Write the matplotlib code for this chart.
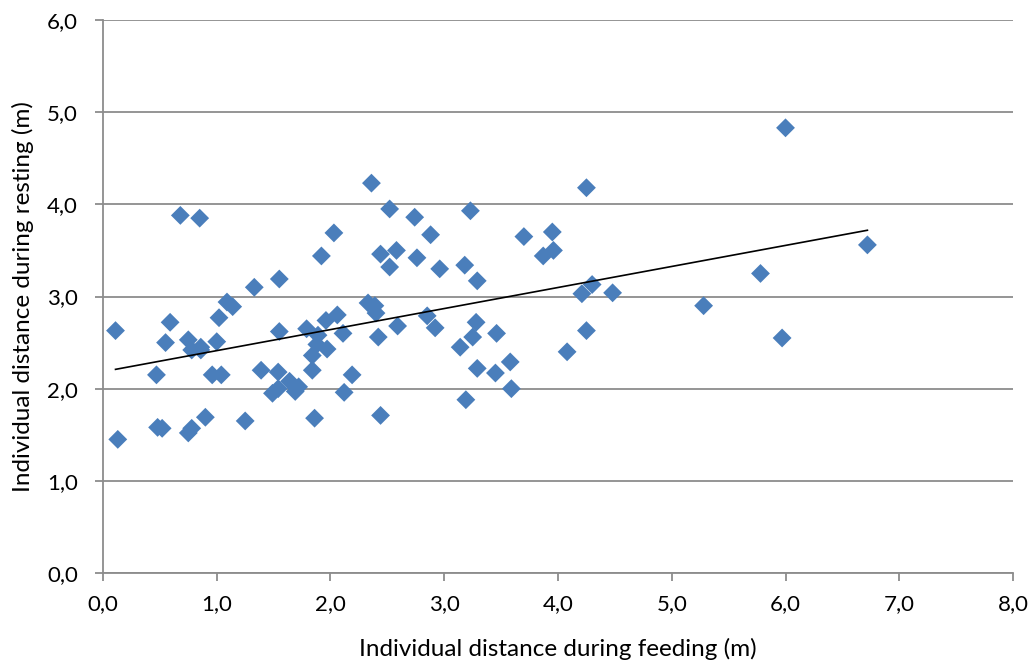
import numpy as np
import matplotlib.pyplot as plt

# individual distances (m)
feeding = [0.11, 0.13, 0.47, 0.48, 0.52, 0.55, 0.59, 0.68, 0.85, 0.75,
           0.78, 0.75, 0.78, 0.86, 0.86, 0.90, 0.96, 1.04, 1.00, 1.02,
           1.09, 1.14, 1.25, 1.33, 1.39, 1.55, 1.49, 1.54, 1.54, 1.55,
           1.64, 1.69, 1.72, 1.79, 1.84, 1.84, 1.86, 1.88, 1.89, 1.92,
           1.96, 1.97, 2.03, 2.06, 2.11, 2.12, 2.19, 2.36, 2.33, 2.39,
           2.40, 2.42, 2.44, 2.44, 2.52, 2.52, 2.58, 2.59, 2.74, 2.76,
           2.85, 2.88, 2.92, 2.96, 3.14, 3.19, 3.18, 3.23, 3.25, 3.28,
           3.29, 3.29, 3.45, 3.46, 3.58, 3.59, 3.70, 3.87, 3.95, 3.96,
           4.08, 4.21, 4.25, 4.25, 4.30, 4.48, 5.28, 5.78, 5.97, 6.00,
           6.72]
resting = [2.63, 1.45, 2.15, 1.58, 1.57, 2.50, 2.72, 3.88, 3.85, 2.53,
           2.42, 1.52, 1.57, 2.42, 2.45, 1.69, 2.15, 2.15, 2.51, 2.77,
           2.94, 2.89, 1.65, 3.10, 2.20, 3.19, 1.95, 2.00, 2.18, 2.62,
           2.08, 1.97, 2.02, 2.65, 2.36, 2.20, 1.68, 2.48, 2.58, 3.44,
           2.74, 2.43, 3.69, 2.80, 2.60, 1.96, 2.15, 4.23, 2.93, 2.90,
           2.82, 2.56, 3.46, 1.71, 3.95, 3.32, 3.50, 2.68, 3.86, 3.42,
           2.79, 3.67, 2.66, 3.30, 2.45, 1.88, 3.34, 3.93, 2.56, 2.72,
           3.17, 2.22, 2.17, 2.60, 2.29, 2.00, 3.65, 3.44, 3.70, 3.50,
           2.40, 3.03, 4.18, 2.63, 3.13, 3.04, 2.90, 3.25, 2.55, 4.83,
           3.56]

x_ticks = np.arange(0, 8.01, 1.0)
y_ticks = np.arange(0, 6.01, 1.0)

plt.rcParams['font.family'] = ['Lato', 'DejaVu Sans']

fig = plt.figure(figsize=(10.32, 6.66), dpi=100)
ax = fig.add_axes([0.0998, 0.1396, 0.8818, 0.8304])

grey = '#8c8c8c'
ax.set_axisbelow(True)
ax.yaxis.grid(True, color=grey, linewidth=1.3)

ax.scatter(feeding, resting, marker='D', s=92, color='#4a7ebb', edgecolors='none', zorder=3)

# linear trendline over the data range
fx = np.array(feeding)
slope, intercept = np.polyfit(fx, resting, 1)
xl = np.array([fx.min(), fx.max()])
ax.plot(xl, slope * xl + intercept, color='black', linewidth=1.2, zorder=4)

ax.set_xlim(0, 8)
ax.set_ylim(0, 6)
ax.set_xticks(x_ticks)
ax.set_yticks(y_ticks)
ax.set_xticklabels([f"{v:.1f}".replace('.', ',') for v in x_ticks])
ax.set_yticklabels([f"{v:.1f}".replace('.', ',') for v in y_ticks])

for side in ['top', 'right']:
    ax.spines[side].set_visible(False)
for side in ['left', 'bottom']:
    ax.spines[side].set_color(grey)
    ax.spines[side].set_linewidth(1.3)
ax.tick_params(axis='both', direction='out', length=6, width=1.3, color=grey,
               labelsize=16, labelcolor='black')
ax.tick_params(axis='x', pad=9)
ax.tick_params(axis='y', pad=12)

ax.set_xlabel('Individual distance during feeding (m)', fontsize=17.5, labelpad=17)
ax.set_ylabel('Individual distance during resting (m)', fontsize=17.5, labelpad=9)

fig.savefig('out.png', dpi=100)
